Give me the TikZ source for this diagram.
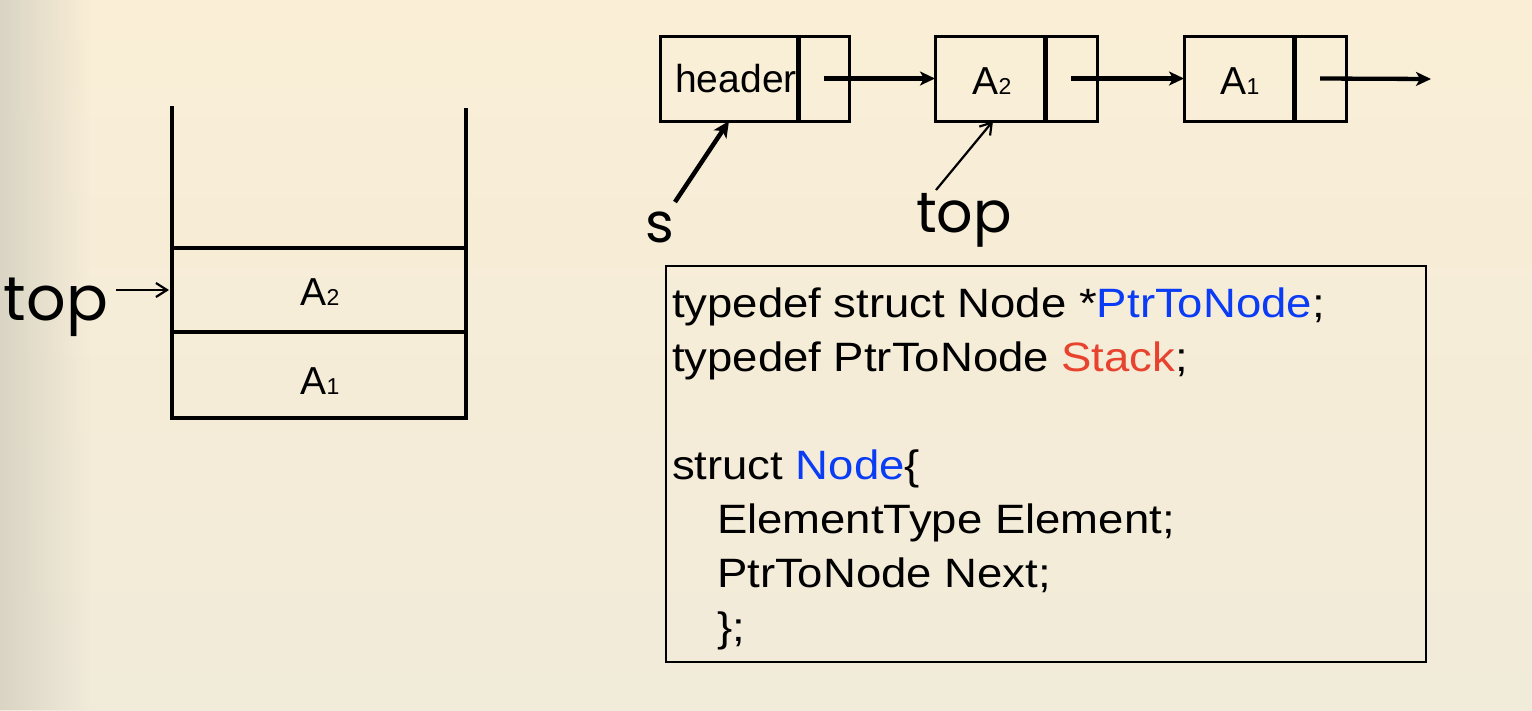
\documentclass[tikz,border=0pt]{standalone}
\usepackage{fontspec}
\setmainfont{Liberation Sans}
\newfontfamily\codefont{Liberation Sans}[FakeStretch=1.11]
\newfontfamily\roundfont{Poppins}
\usetikzlibrary{arrows.meta,fadings}
\definecolor{bgtop}{HTML}{FAEED6}
\definecolor{bgbot}{HTML}{F1EBDA}
\definecolor{edgecol}{HTML}{D9D4C4}
\definecolor{kwblue}{HTML}{0A3CF5}
\definecolor{kwred}{HTML}{E8432E}
\tikzfading[name=fadeR, left color=transparent!0, right color=transparent!100]
\begin{document}
\begin{tikzpicture}[x=1pt,y=-1pt,
  wall/.style={line width=4.6pt, line join=miter},
  cellbox/.style={draw, line width=3pt, inner sep=0pt, outer sep=0pt, minimum height=85pt},
  divider/.style={line width=5pt},
  link/.style={line width=4.3pt, -{Stealth[length=15pt,width=14pt,inset=4pt]}},
  thickptr/.style={line width=4.5pt, -{Stealth[length=16pt,width=15pt,inset=4pt]}},
  thinptr/.style={line width=2.2pt, -{Straight Barb[length=11pt,width=14pt]}},
  lbl/.style={inner sep=0pt, outer sep=0pt, font=\fontsize{39}{39}\selectfont},
  roundlbl/.style={inner sep=0pt, outer sep=0pt},
  codeline/.style={inner sep=0pt, outer sep=0pt, anchor=base west, font=\codefont\fontsize{41}{41}\selectfont},
  codebox/.style={draw, line width=1.6pt, inner sep=0pt, outer sep=0pt}
]
\useasboundingbox (0,0) rectangle (1532,710);
% background
\fill[top color=bgtop, bottom color=bgbot] (0,0) rectangle (1532,710);
\fill[edgecol, path fading=fadeR] (0,0) rectangle (90,710);

% ---------------- stack ----------------
\draw[wall] (172,106) -- (172,418) -- (466,418) -- (466,108);
\draw[wall] (172,248) -- (466,248);
\draw[wall] (172,332) -- (466,332);
\node[lbl, anchor=base] (sA2) at (320,305) {A{\fontsize{23}{23}\selectfont 2}};
\node[lbl, anchor=base] (sA1) at (320,394) {A{\fontsize{23}{23}\selectfont 1}};
\node[roundlbl, anchor=base west, font=\roundfont\fontsize{62}{62}\selectfont] (topL) at (4,320) {top};
\coordinate (tlFrom) at (116,290);
\coordinate (wallA2) at (169,290);
\draw[thinptr] (tlFrom) -- (wallA2);

% ---------------- linked list ----------------
\node[cellbox, minimum width=138pt] (d1) at (729,78.5) {};
\node[cellbox, minimum width=51pt]  (p1) at (823.5,78.5) {};
\node[cellbox, minimum width=110pt] (d2) at (990,78.5) {};
\node[cellbox, minimum width=52pt]  (p2) at (1071,78.5) {};
\node[cellbox, minimum width=110pt] (d3) at (1239,78.5) {};
\node[cellbox, minimum width=52pt]  (p3) at (1320,78.5) {};
\draw[divider] (d1.north east) -- (d1.south east);
\draw[divider] (d2.north east) -- (d2.south east);
\draw[divider] (d3.north east) -- (d3.south east);
\node[lbl, anchor=base] (hdr) at (736,92) {header};
\node[lbl, anchor=base] (lA2) at (992,94) {A{\fontsize{23}{23}\selectfont 2}};
\node[lbl, anchor=base] (lA1) at (1240,94) {A{\fontsize{23}{23}\selectfont 1}};
\coordinate (nullEnd) at (1431,79);
\draw[link] (p1.center) -- (d2.west);
\draw[link] (p2.center) -- (d3.west);
\draw[link] (p3.center) -- (nullEnd);

\node[roundlbl, anchor=base, font=\roundfont\fontsize{55}{55}\selectfont] (sLbl) at (660,242) {s};
\node[roundlbl, anchor=base, font=\roundfont\fontsize{57}{57}\selectfont] (topR) at (964,232) {top};
\coordinate (sFrom) at (675,202);
\coordinate (tFrom) at (936,190);
\draw[thickptr] (sFrom) -- (d1.south);
\draw[thinptr] (tFrom) -- ([xshift=3pt]d2.south);

% ---------------- code box ----------------
\node[codebox, minimum width=760pt, minimum height=396pt] (code) at (1046,464) {};
\node[codeline] (c1) at (672,317) {typedef struct Node *\textcolor{kwblue}{PtrToNode};};
\node[codeline] (c2) at (672,371) {typedef PtrToNode \textcolor{kwred}{Stack};};
\node[codeline] (c4) at (672,479) {struct \textcolor{kwblue}{Node}\{};
\node[codeline] (c5) at (717,533) {ElementType Element;};
\node[codeline] (c6) at (717,587) {PtrToNode Next;};
\node[codeline] (c7) at (717,641) {\};};
\end{tikzpicture}
\end{document}
